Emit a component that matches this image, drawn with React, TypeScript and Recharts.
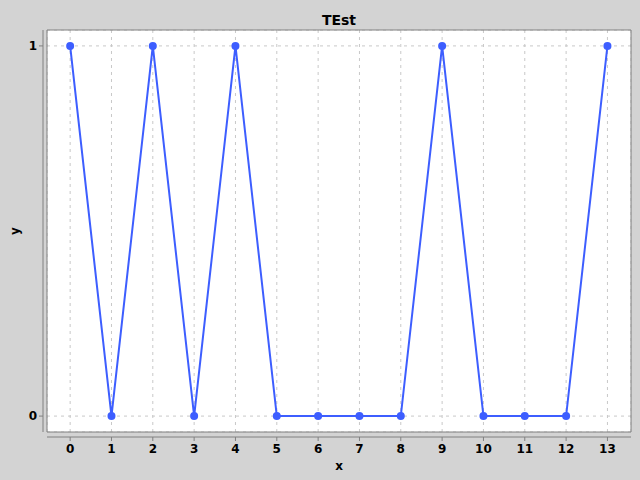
import React from 'react';
import { LineChart, Line, XAxis, YAxis, CartesianGrid, ReferenceArea } from 'recharts';

const xValues = [0, 1, 2, 3, 4, 5, 6, 7, 8, 9, 10, 11, 12, 13];
const yValues = [1, 0, 1, 0, 1, 0, 0, 0, 0, 1, 0, 0, 0, 1];
const xTicks = [0, 1, 2, 3, 4, 5, 6, 7, 8, 9, 10, 11, 12, 13];
const yTicks = [0, 1];
const xDomain: [number, number] = [-0.56, 13.57];
const yDomain: [number, number] = [-0.043, 1.043];

const data = xValues.map((x, i) => ({ x, y: yValues[i] }));

const FONT = '"DejaVu Sans", sans-serif';
const AXIS = '#808080';
const LINE = '#3d5eff';

const XTick = (props: any) => {
  const { x, y, payload } = props;
  return (
    <text x={x} y={y + 15} textAnchor="middle" fontFamily={FONT} fontSize={12} fontWeight="bold" fill="#000">
      {payload.value}
    </text>
  );
};

const YTick = (props: any) => {
  const { x, y, payload } = props;
  return (
    <text x={x - 4} y={y + 4} textAnchor="end" fontFamily={FONT} fontSize={12} fontWeight="bold" fill="#000">
      {payload.value}
    </text>
  );
};

export default function App() {
  return (
    <div style={{ position: 'absolute', left: 0, top: 0, width: 640, height: 480, background: '#d3d3d3' }}>
      <div
        style={{
          position: 'absolute',
          left: 47,
          width: 584,
          top: 12,
          textAlign: 'center',
          fontFamily: FONT,
          fontWeight: 'bold',
          fontSize: 14,
          lineHeight: '17px',
          color: '#000',
        }}
      >
        TEst
      </div>
      <LineChart width={640} height={480} data={data} margin={{ top: 30, right: 9, bottom: 0, left: 0 }}>
        <CartesianGrid stroke="#c8c8c8" strokeDasharray="3 4" fill="#ffffff" fillOpacity={1} />
        <XAxis
          dataKey="x"
          type="number"
          domain={xDomain}
          ticks={xTicks}
          allowDataOverflow
          height={48}
          tickSize={4}
          axisLine={{ stroke: AXIS, strokeWidth: 1, transform: 'translate(0,5)' }}
          tickLine={{ stroke: AXIS, transform: 'translate(0,5)' }}
          tick={<XTick />}
          label={{
            content: (p: any) => {
              const vb = p.viewBox || {};
              return (
                <text x={vb.x + vb.width / 2} y={470} textAnchor="middle" fontFamily={FONT} fontSize={12} fontWeight="bold" fill="#000">
                  x
                </text>
              );
            },
          }}
        />
        <YAxis
          dataKey="y"
          type="number"
          domain={yDomain}
          ticks={yTicks}
          allowDataOverflow
          width={47}
          tickSize={4}
          axisLine={{ stroke: AXIS, strokeWidth: 1, transform: 'translate(-4,0)' }}
          tickLine={{ stroke: AXIS, transform: 'translate(-4,0)' }}
          tick={<YTick />}
          label={{
            content: (p: any) => {
              const vb = p.viewBox || {};
              const cy = vb.y + vb.height / 2;
              return (
                <text x={19} y={cy} transform={`rotate(-90, 19, ${cy})`} textAnchor="middle" fontFamily={FONT} fontSize={12} fontWeight="bold" fill="#000">
                  y
                </text>
              );
            },
          }}
        />
        <ReferenceArea x1={xDomain[0]} x2={xDomain[1]} y1={yDomain[0]} y2={yDomain[1]} fill="none" fillOpacity={0} stroke={AXIS} strokeWidth={1} ifOverflow="visible" />
        <Line
          type="linear"
          dataKey="y"
          stroke={LINE}
          strokeWidth={2}
          dot={{ r: 4, fill: LINE, stroke: LINE, strokeWidth: 0 }}
          activeDot={false}
          isAnimationActive={false}
        />
      </LineChart>
    </div>
  );
}
